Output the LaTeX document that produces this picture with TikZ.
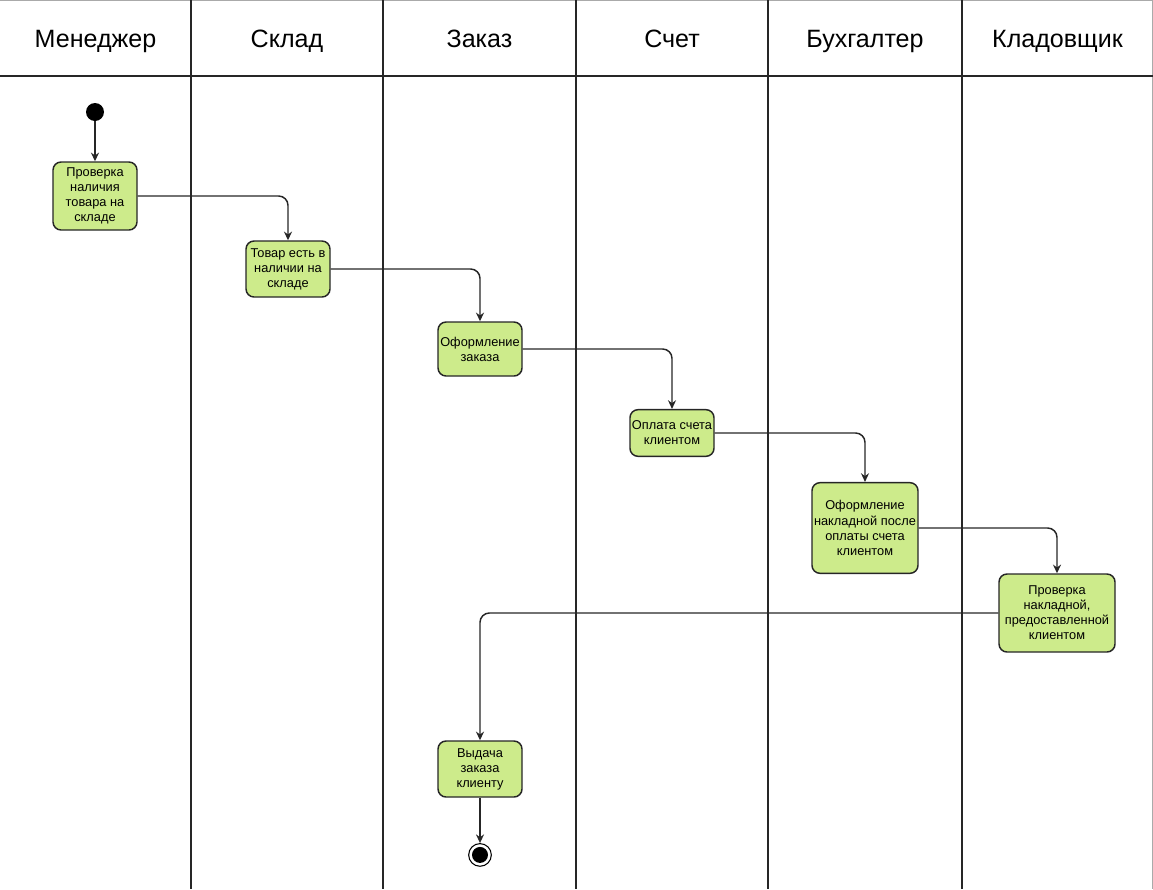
\documentclass[tikz,border=0pt]{standalone}
\usepackage{fontspec}
\setmainfont{Liberation Sans}
\usetikzlibrary{arrows.meta, positioning}
\definecolor{actgreen}{RGB}{205,235,139}
\definecolor{framegray}{RGB}{170,170,170}
\NewDocumentCommand{\boxfont}{}{\fontsize{9.6}{11.3}\selectfont}

\begin{document}
\begin{tikzpicture}[x=0.75pt,y=-0.75pt,>={Stealth[length=6.5pt,width=6pt]},
        lane/.style={draw=black!85,line width=1.1pt},
        head/.style={anchor=base,font=\fontsize{18.8}{22}\selectfont},
        act/.style={draw=black!85,fill=actgreen,line width=1.1pt,rounded corners=6pt,
                    align=center,inner sep=1pt,font=\boxfont},
        flow/.style={->,draw=black!85,line width=1.1pt,rounded corners=7pt},
        startstate/.style={circle,fill=black,minimum size=13.5pt,inner sep=0pt},
        endstate/.style={circle,draw=black,line width=0.8pt,minimum size=17pt,inner sep=0pt,
                    path picture={\fill (path picture bounding box.center) circle (6pt);}}]
    \useasboundingbox (0,0) rectangle (1153,889);

      % lanes
      \draw[framegray,line width=0.8pt] (0,0.5) -- (1152.5,0.5) -- (1152.5,889);
      \draw[lane] (0,76) -- (1153,76);
      \foreach \x in {191,383,576,768,962}
        \draw[lane] (\x,0) -- (\x,889);

      \node[head] (manager)    at (95.5,47)  {Менеджер};
      \node[head] (warehouse)  at (287,47)   {Склад};
      \node[head] (order)      at (479.5,47) {Заказ};
      \node[head] (invoice)    at (672,47)   {Счет};
      \node[head] (accountant) at (865,47)   {Бухгалтер};
      \node[head] (keeper)     at (1057.5,47) {Кладовщик};

      % activities
      \node[startstate] (start) at (95,112) {};
      \node[act,minimum width=63pt,minimum height=51pt] (check)   at (95,196)  {Проверка\\наличия\\товара на\\складе};
      \node[act,minimum width=63pt,minimum height=42pt] (instock) at (288,269) {Товар есть в\\наличии на\\складе};
      \node[act,minimum width=63pt,minimum height=40.5pt] (makeorder) at (480,349) {Оформление\\заказа};
      \node[act,minimum width=63pt,minimum height=35pt] (payment) at (672,433) {Оплата счета\\клиентом};
      \node[act,minimum width=79.5pt,minimum height=68pt] (waybill) at (865,528) {Оформление\\накладной после\\оплаты счета\\клиентом};
      \node[act,minimum width=87pt,minimum height=58.5pt] (verify) at (1057,613) {Проверка\\накладной,\\предоставленной\\клиентом};
      \node[act,minimum width=63pt,minimum height=42pt] (issue) at (480,769) {Выдача\\заказа\\клиенту};
      \node[endstate] (finish) [below=34pt of issue] {};

      \path[flow] (start) edge (check);
      \draw[flow] (check.east) -| (instock.north);
      \draw[flow] (instock.east) -| (makeorder.north);
      \draw[flow] (makeorder.east) -| (payment.north);
      \draw[flow] (payment.east) -| (waybill.north);
      \draw[flow] (waybill.east) -| (verify.north);
      \draw[flow] (verify.west) -| (issue.north);
      \path[flow] (issue) edge (finish);
    \end{tikzpicture}
\end{document}
